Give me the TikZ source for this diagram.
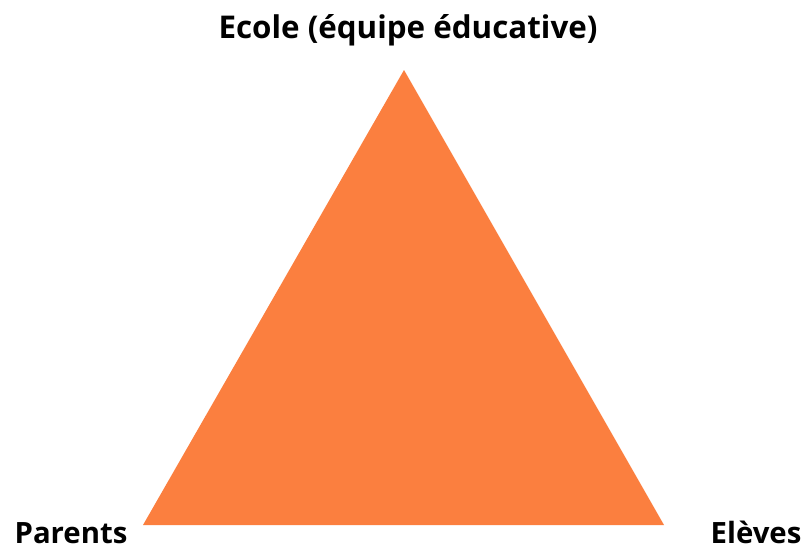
\documentclass[tikz,border=0pt]{standalone}
\usepackage{fontspec}
\setmainfont{Open Sans}
\definecolor{Tri}{HTML}{FB7F3F}
\usepackage{xcolor}

\begin{document}
\begin{tikzpicture}[x=0.75pt,y=-0.75pt,font=\fontsize{22}{26}\selectfont\bfseries]
  \useasboundingbox (0,0) rectangle (806,551);

  % Corners
  \coordinate (apex) at (404,70);
  \coordinate (left) at (143,525);
  \coordinate (right) at (664,525);
  \fill[Tri] (apex) -- (left) -- (right) -- cycle;

  % Labels
  \node[anchor=base,font=\fontsize{23.5}{28}\selectfont\bfseries] (ecole) at (408,38) {Ecole (équipe éducative)};
  \node[anchor=base,inner sep=0pt] (parents) at (71,543) {Parents};
  \node[anchor=base,inner sep=0pt] (eleves) at (756,543) {Elèves};
\end{tikzpicture}
\end{document}
